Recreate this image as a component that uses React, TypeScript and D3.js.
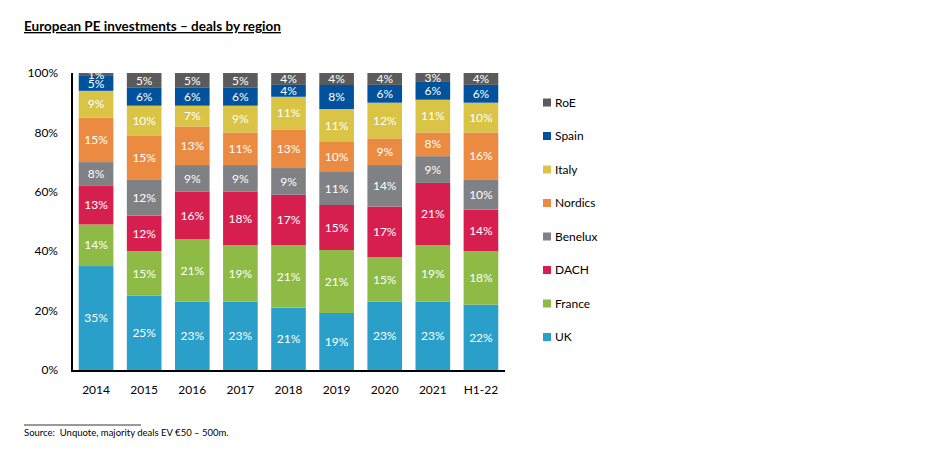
import { useRef, useEffect } from 'react'
import * as d3 from 'd3'

const periods = ['2014', '2015', '2016', '2017', '2018', '2019', '2020', '2021', 'H1-22']
const regions = ['UK', 'France', 'DACH', 'Benelux', 'Nordics', 'Italy', 'Spain', 'RoE']

const uk = [35, 25, 23, 23, 21, 19, 23, 23, 22]
const france = [14, 15, 21, 19, 21, 21, 15, 19, 18]
const dach = [13, 12, 16, 18, 17, 15, 17, 21, 14]
const benelux = [8, 12, 9, 9, 9, 11, 14, 9, 10]
const nordics = [15, 15, 13, 11, 13, 10, 9, 8, 16]
const italy = [9, 10, 7, 9, 11, 11, 12, 11, 10]
const spain = [5, 6, 6, 6, 4, 8, 6, 6, 6]
const roe = [1, 5, 5, 5, 4, 4, 4, 3, 4]

const yTicks = [0, 0.2, 0.4, 0.6, 0.8, 1]

const colors: Record<string, string> = {
  UK: '#299fca',
  France: '#8dbb45',
  DACH: '#d61f4f',
  Benelux: '#7f8184',
  Nordics: '#eb8b41',
  Italy: '#d9c446',
  Spain: '#00529c',
  RoE: '#5b5b5b',
}

const font = 'Lato, "Open Sans", sans-serif'

const App = () => {
  const ref = useRef<SVGSVGElement>(null)

  useEffect(() => {
    if (!ref.current) return
    const svg = d3.select(ref.current)
    svg.selectAll('*').remove()

    const series: Record<string, number[]> = {
      UK: uk, France: france, DACH: dach, Benelux: benelux,
      Nordics: nordics, Italy: italy, Spain: spain, RoE: roe,
    }
    const rows = periods.map((p, i) => {
      const r: Record<string, any> = { period: p }
      regions.forEach(k => { r[k] = series[k][i] })
      return r
    })

    const left = 72, right = 505, top = 73, bottom = 370
    const x = d3.scaleBand().domain(periods).range([left, right]).paddingInner(0.28).paddingOuter(0.14)
    const y = d3.scaleLinear().domain([0, 1]).range([bottom, top])

    const stack = d3.stack<any>().keys(regions).offset(d3.stackOffsetExpand)
    const layers = stack(rows)

    svg.append('text')
      .attr('x', 24).attr('y', 31)
      .attr('font-family', font).attr('font-weight', 'bold').attr('font-size', 13.5)
      .attr('text-decoration', 'underline')
      .text('European PE investments – deals by region')

    const g = svg.append('g')
    layers.forEach(layer => {
      const key = layer.key
      const lg = g.append('g')
      lg.selectAll('rect').data(layer).enter().append('rect')
        .attr('x', d => x(d.data.period)!)
        .attr('width', x.bandwidth())
        .attr('y', d => y(d[1]))
        .attr('height', d => y(d[0]) - y(d[1]))
        .attr('fill', colors[key])
      lg.selectAll('text').data(layer).enter().append('text')
        .attr('x', d => x(d.data.period)! + x.bandwidth() / 2)
        .attr('y', d => (y(d[0]) + y(d[1])) / 2)
        .attr('dy', '0.35em')
        .attr('text-anchor', 'middle')
        .attr('fill', '#fff')
        .attr('font-family', font).attr('font-size', 12)
        .text(d => `${d.data[key]}%`)
    })

    // axes
    svg.append('line').attr('x1', left).attr('x2', left).attr('y1', top).attr('y2', bottom + 1)
      .attr('stroke', '#000').attr('stroke-width', 2)
    svg.append('line').attr('x1', left - 1).attr('x2', right).attr('y1', bottom + 1).attr('y2', bottom + 1)
      .attr('stroke', '#000').attr('stroke-width', 2)

    svg.append('g').selectAll('text').data(yTicks).enter().append('text')
      .attr('x', 58).attr('y', d => y(d)).attr('dy', '0.35em')
      .attr('text-anchor', 'end')
      .attr('font-family', font).attr('font-size', 12)
      .text(d => d3.format('.0%')(d))

    svg.append('g').selectAll('text').data(periods).enter().append('text')
      .attr('x', d => x(d)! + x.bandwidth() / 2).attr('y', 390).attr('dy', '0.35em')
      .attr('text-anchor', 'middle')
      .attr('font-family', font).attr('font-size', 12)
      .text(d => d)

    // legend
    const legendKeys = regions.slice().reverse()
    const lg = svg.append('g').selectAll('g').data(legendKeys).enter().append('g')
      .attr('transform', (_, i) => `translate(543,${102.5 + i * 33.5})`)
    lg.append('rect').attr('x', 0).attr('y', -4).attr('width', 8).attr('height', 8)
      .attr('fill', d => colors[d])
    lg.append('text').attr('x', 12).attr('y', 0).attr('dy', '0.35em')
      .attr('font-family', font).attr('font-size', 12)
      .text(d => d)

    // source
    svg.append('line').attr('x1', 24).attr('x2', 141).attr('y1', 425).attr('y2', 425)
      .attr('stroke', '#000').attr('stroke-width', 0.8)
    svg.append('text').attr('x', 24).attr('y', 436)
      .attr('font-family', font).attr('font-size', 9.5)
      .attr('xml:space', 'preserve')
      .text('Source:  Unquote, majority deals EV €50 – 500m.')
  }, [])

  return <svg ref={ref} width={933} height={461} style={{ display: 'block', position: 'absolute', left: 0, top: 0 }} />
}

export default App
